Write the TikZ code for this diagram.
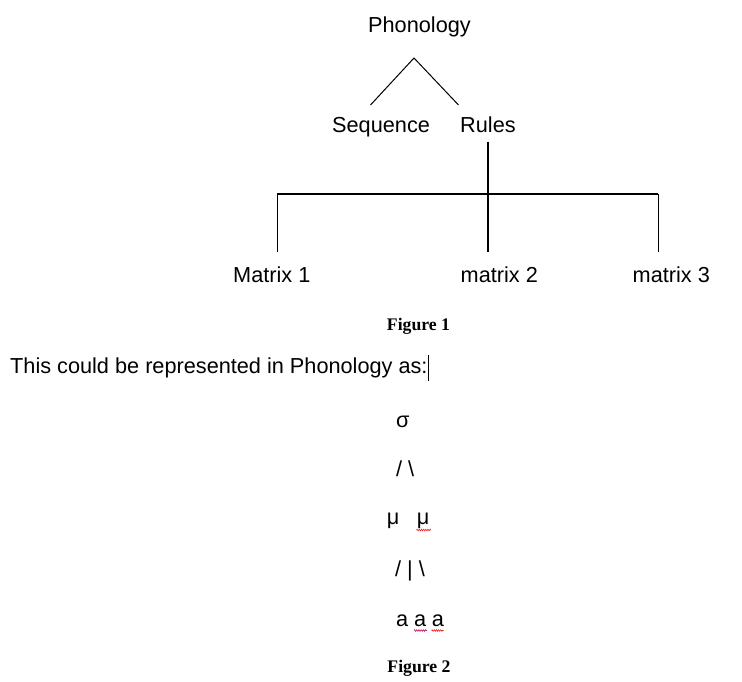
\documentclass[tikz,border=0pt]{standalone}
\usepackage{fontspec}
\setmainfont{Liberation Sans}
\newfontfamily\capfont{Liberation Serif}
\usetikzlibrary{decorations.pathmorphing}
\definecolor{spellred}{RGB}{235,30,30}
\definecolor{spellpurple}{RGB}{190,20,100}
\begin{document}
\begin{tikzpicture}[x=1pt,y=-1pt,
  lbl/.style={anchor=base west, inner sep=0pt, font=\fontsize{21.7}{26}\selectfont},
  figcap/.style={anchor=base, inner sep=0pt, font=\capfont\bfseries\fontsize{17.7}{21}\selectfont},
  thinline/.style={line width=1pt},
  heavyline/.style={line width=2.2pt},
  squig/.style={line width=0.6pt, decorate, decoration={zigzag, segment length=2.2pt, amplitude=0.8pt}}]
\useasboundingbox (0,0) rectangle (742,681);

% Figure 1 tree
\node[lbl] (phon) at (368,32) {Phonology};
\node[lbl] (seq) at (332,132) {Sequence};
\node[lbl] (rules) at (460,132) {Rules};
\node[lbl] (m1) at (233,282) {Matrix 1};
\node[lbl] (m2) at (460.5,282) {matrix 2};
\node[lbl] (m3) at (632.5,282) {matrix 3};
\node[figcap] (fig1) at (418.5,330) {Figure 1};

\coordinate (apex) at (414,58);
\coordinate (seqtop) at (370.5,105);
\coordinate (rulestop) at (458.5,105);
\draw[thinline] (seqtop) -- (apex) -- (rulestop);

\coordinate (stemtop) at (488.3,141.5);
\coordinate (stembot) at (488.3,252);
\coordinate (barl) at (277,194.3);
\coordinate (barr) at (658.3,194.3);
\coordinate (m1top) at (277,252);
\coordinate (m3top) at (658.3,252);
\draw[heavyline] (stemtop) -- (stembot);
\draw[heavyline] (barl) -- (barr);
\draw[thinline] (barl) -- (m1top);
\draw[thinline] (barr) -- (m3top);

% Sentence
\node[lbl] (sent) at (10,373) {This could be represented in Phonology as:};
\coordinate (cura) at (428.5,355);
\coordinate (curb) at (428.5,381);
\draw[line width=0.8pt] (cura) -- (curb);

% Figure 2
\node[lbl] (sigma) at (396,427) {σ};
\node[lbl] (sl1) at (396,476) {/ \textbackslash};
\node[lbl] (mu1) at (386.7,524.5) {μ};
\node[lbl] (mu2) at (416.7,524.5) {μ};
\node[lbl] (sl2) at (395,576) {/ | \textbackslash};
\node[lbl] (a1) at (396,626) {a};
\node[lbl] (a2) at (414,626) {a};
\node[lbl] (a3) at (431.7,626) {a};
\node[figcap] (fig2) at (419,672) {Figure 2};

\coordinate (sq1a) at (416.5,530);
\coordinate (sq1b) at (431,530);
\coordinate (sq2a) at (414,630.5);
\coordinate (sq2b) at (427,630.5);
\coordinate (sq3a) at (431.5,630.5);
\coordinate (sq3b) at (443.5,630.5);
\draw[squig, spellred] (sq1a) -- (sq1b);
\draw[squig, spellpurple] (sq2a) -- (sq2b);
\draw[squig, spellred] (sq3a) -- (sq3b);
\end{tikzpicture}
\end{document}
